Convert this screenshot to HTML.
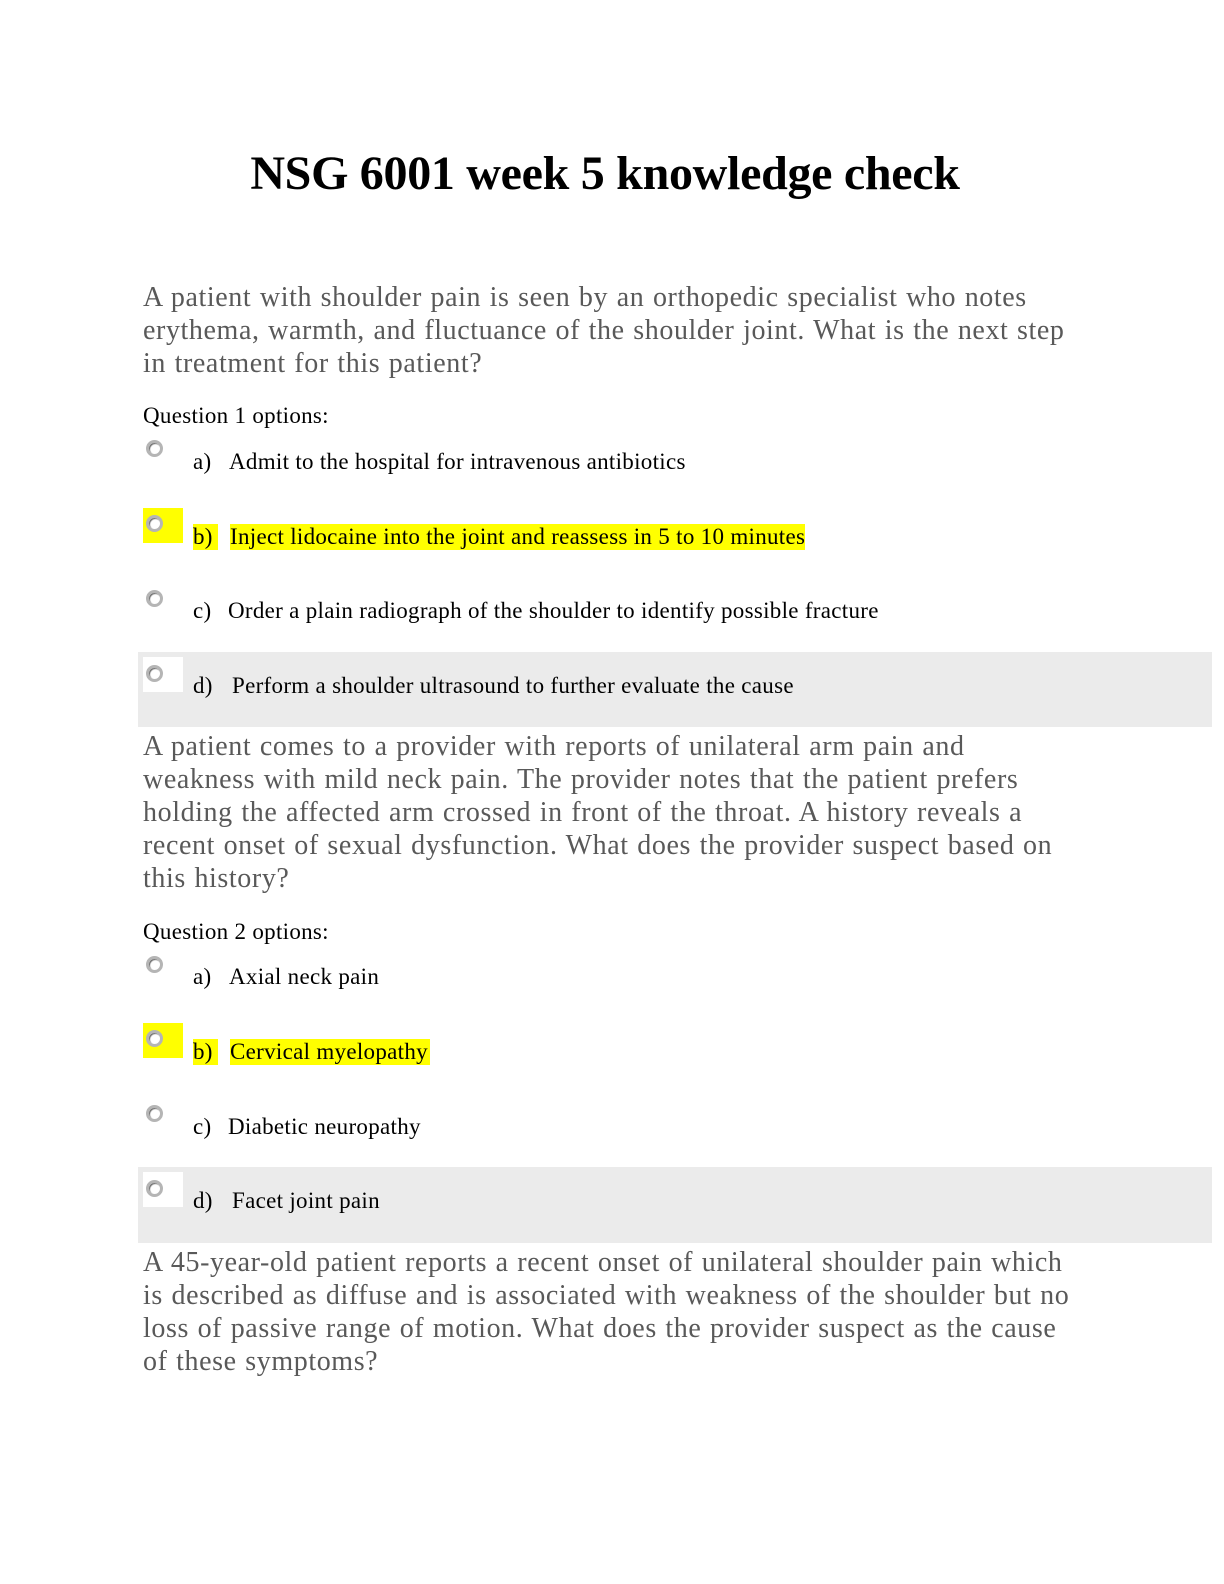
<!DOCTYPE html>
<html><head><style>
body{margin:0;width:1224px;height:1584px;background:#fff;position:relative;font-family:"Liberation Serif",serif;overflow:hidden}
.a{position:absolute;white-space:nowrap}
h1{position:absolute;left:0;width:1210px;text-align:center;top:146px;margin:0;font-size:48px;font-weight:bold;color:#000;letter-spacing:-0.3px}
.q{position:absolute;left:143px;font-size:28px;line-height:33px;color:#595959;white-space:nowrap;letter-spacing:0.6px;word-spacing:1px}
.o{font-size:23px;color:#000;letter-spacing:0.3px}
.r{position:absolute;width:17px;height:17px;border-radius:50%;border:3px solid #b5b5b5;background:#fff;box-sizing:border-box;box-shadow:inset 1px 1px 1px #666}
.band{position:absolute;left:138px;width:1074px;background:#ebebeb}
.wb{position:absolute;background:#fff;width:40px;height:35px}
.y{background:#ffff00}
</style></head><body>
<h1>NSG 6001 week 5 knowledge check</h1>
<div class="q" style="top:281px">A patient with shoulder pain is seen by an orthopedic specialist who notes<br>erythema, warmth, and fluctuance of the shoulder joint. What is the next step<br>in treatment for this patient?</div>
<div class="a o" style="left:143px;top:403px">Question 1 options:</div>
<div class="r" style="left:146px;top:440px"></div>
<div class="a o" style="left:193px;top:449px">a)</div><div class="a o" style="left:229px;top:449px">Admit to the hospital for intravenous antibiotics</div>
<div class="a y" style="left:143px;top:508px;width:40px;height:35px"></div>
<div class="r" style="left:146px;top:515px"></div>
<div class="a o y" style="left:193px;top:524px;width:25px;height:26px">b)</div><div class="a o y" style="left:230px;top:524px;width:575px;height:26px">Inject lidocaine into the joint and reassess in 5 to 10 minutes</div>
<div class="r" style="left:146px;top:590px"></div>
<div class="a o" style="left:193px;top:598px">c)</div><div class="a o" style="left:228px;top:598px">Order a plain radiograph of the shoulder to identify possible fracture</div>
<div class="band" style="top:652px;height:75px"></div>
<div class="wb" style="left:143px;top:657px"></div>
<div class="r" style="left:146px;top:665px"></div>
<div class="a o" style="left:193px;top:673px">d)</div><div class="a o" style="left:232px;top:673px">Perform a shoulder ultrasound to further evaluate the cause</div>

<div class="q" style="top:730px">A patient comes to a provider with reports of unilateral arm pain and<br>weakness with mild neck pain. The provider notes that the patient prefers<br>holding the affected arm crossed in front of the throat. A history reveals a<br>recent onset of sexual dysfunction. What does the provider suspect based on<br>this history?</div>
<div class="a o" style="left:143px;top:919px">Question 2 options:</div>
<div class="r" style="left:146px;top:956px"></div>
<div class="a o" style="left:193px;top:964px">a)</div><div class="a o" style="left:229px;top:964px">Axial neck pain</div>
<div class="a y" style="left:143px;top:1023px;width:40px;height:35px"></div>
<div class="r" style="left:146px;top:1030px"></div>
<div class="a o y" style="left:193px;top:1039px;width:25px;height:26px">b)</div><div class="a o y" style="left:230px;top:1039px;width:200px;height:26px">Cervical myelopathy</div>
<div class="r" style="left:146px;top:1105px"></div>
<div class="a o" style="left:193px;top:1114px">c)</div><div class="a o" style="left:228px;top:1114px">Diabetic neuropathy</div>
<div class="band" style="top:1167px;height:76px"></div>
<div class="wb" style="left:143px;top:1172px"></div>
<div class="r" style="left:146px;top:1180px"></div>
<div class="a o" style="left:193px;top:1188px">d)</div><div class="a o" style="left:232px;top:1188px">Facet joint pain</div>

<div class="q" style="top:1246px">A 45-year-old patient reports a recent onset of unilateral shoulder pain which<br>is described as diffuse and is associated with weakness of the shoulder but no<br>loss of passive range of motion. What does the provider suspect as the cause<br>of these symptoms?</div>
</body></html>
